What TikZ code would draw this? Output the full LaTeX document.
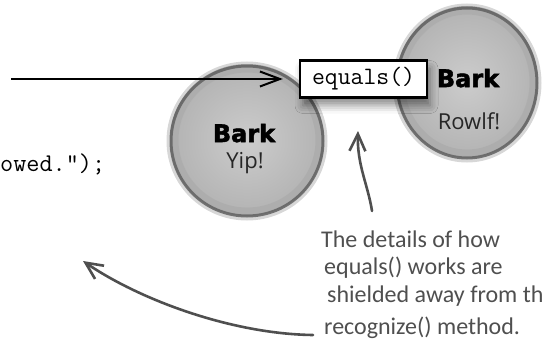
\documentclass[tikz,border=0pt]{standalone}
\usepackage{fontspec}
\usetikzlibrary{arrows.meta,shadows.blur}
\newfontfamily\barkfont[FakeBold=2.2]{DejaVu Sans Bold}
\newfontfamily\dogfont{Open Sans}
\newfontfamily\notefont{Carlito}
\definecolor{notegray}{HTML}{4f4f4f}
\tikzset{
  ballfill/.style={inner color=black!20, outer color=black!30},
  rimsoft/.style={draw=black!45, line width=5pt, opacity=0.35},
  riminner/.style={draw=black!40, line width=7pt, opacity=0.25},
  rimdark/.style={draw=black!62, line width=3pt, opacity=0.85},
  barklabel/.style={font=\barkfont\fontsize{24}{24}\selectfont, anchor=base, inner sep=0pt},
  doglabel/.style={font=\dogfont\fontsize{22}{22}\selectfont, text=black!85, anchor=base, inner sep=0pt},
  codetext/.style={font=\ttfamily\fontsize{25.5}{25.5}\selectfont, inner sep=0pt},
  methodbox/.style={draw=black, line width=2.4pt, fill=white, font=\ttfamily\fontsize{25}{25}\selectfont,
    minimum width=127pt, minimum height=37pt, inner sep=0pt,
    blur shadow={shadow xshift=3pt, shadow yshift=-8pt, shadow blur radius=8pt, shadow opacity=45}},
  notetext/.style={font=\notefont\fontsize{24}{24}\selectfont, text=notegray, anchor=base west, inner sep=0pt},
  blackarrow/.style={line width=2pt, -{Straight Barb[length=20pt, width=15pt, line width=2pt]}},
  grayarrow/.style={draw=notegray, line width=2.6pt, line cap=round,
    -{Straight Barb[length=17pt, width=16pt, line width=2.6pt]}}
}
\begin{document}
\begin{tikzpicture}[x=1pt, y=-1pt]
\useasboundingbox (0,0) rectangle (544,348);
\clip (0,0) rectangle (544,348);
% dog object "Yip!"
\shade[ballfill] (247,140) ellipse [x radius=77, y radius=76];
\draw[riminner] (247,140) ellipse [x radius=72, y radius=71];
\draw[rimsoft] (247,141) ellipse [x radius=78, y radius=77];
\draw[rimdark] (247,141) ellipse [x radius=76, y radius=75];
% dog object "Rowlf!"
\shade[ballfill] (467,82) ellipse [x radius=71, y radius=76];
\draw[riminner] (467,82) ellipse [x radius=66, y radius=71];
\draw[rimsoft] (467,83) ellipse [x radius=72, y radius=77];
\draw[rimdark] (467,83) ellipse [x radius=70, y radius=75];
\node[barklabel] (barkA) at (244,142) {Bark};
\node[doglabel] (yip) at (245,168) {Yip!};
\node[barklabel] (barkB) at (468,87) {Bark};
\node[doglabel] (rowlf) at (469,129) {Rowlf!};
% equals box
\node[methodbox] (eqbox) at (363.5,79) {equals()};
% code fragment
\node[codetext, anchor=base west] (code) at (0,171) {owed.”);};
% call arrow
\coordinate (callstart) at (11,79);
\draw[blackarrow] (callstart) -- ([xshift=-16pt]eqbox.west);
% annotation
\node[notetext] (note1) at (321,247) {The details of how};
\node[notetext] (note2) at (324,274) {equals() works are};
\node[notetext] (note3) at (327,302) {shielded away from the};
\node[notetext] (note4) at (324,334) {recognize() method.};
\coordinate (uptail) at (372,211);
\coordinate (uptip) at (358,131);
\draw[grayarrow] (uptail) .. controls (368,185) and (357,165) .. (uptip);
\coordinate (curvetail) at (313,335);
\coordinate (curvetip) at (83,261);
\draw[grayarrow] (curvetail) .. controls (232,334) and (140,300) .. (curvetip);
\end{tikzpicture}
\end{document}
